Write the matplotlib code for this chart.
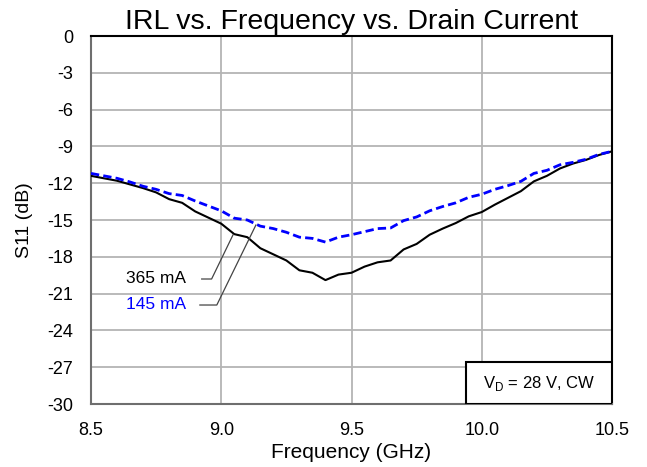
import numpy as np
import matplotlib
matplotlib.use("Agg")
import matplotlib.pyplot as plt
from matplotlib.patches import Rectangle

plt.rcParams['font.family'] = ['Liberation Sans', 'DejaVu Sans']

# frequency points (GHz)
freq = [8.50, 8.55, 8.60, 8.65, 8.70, 8.75, 8.80, 8.85, 8.90, 8.95,
        9.00, 9.05, 9.10, 9.15, 9.20, 9.25, 9.30, 9.35, 9.40, 9.45,
        9.50, 9.55, 9.60, 9.65, 9.70, 9.75, 9.80, 9.85, 9.90, 9.95,
        10.00, 10.05, 10.10, 10.15, 10.20, 10.25, 10.30, 10.35, 10.40, 10.45,
        10.50]

# S11 (dB) at 365 mA
s11_365 = [-11.4, -11.6, -11.8, -12.1, -12.4, -12.75, -13.3, -13.6, -14.3, -14.8,
           -15.3, -16.15, -16.4, -17.3, -17.8, -18.3, -19.1, -19.3, -19.9, -19.45,
           -19.3, -18.8, -18.45, -18.3, -17.4, -16.95, -16.2, -15.7, -15.25, -14.7,
           -14.35, -13.75, -13.2, -12.65, -11.85, -11.4, -10.8, -10.4, -10.1, -9.7,
           -9.4]

# S11 (dB) at 145 mA
s11_145 = [-11.2, -11.4, -11.6, -11.9, -12.25, -12.5, -12.85, -13.0, -13.45, -13.85,
           -14.25, -14.85, -15.0, -15.5, -15.7, -16.0, -16.4, -16.5, -16.8, -16.4,
           -16.2, -15.95, -15.7, -15.65, -15.05, -14.75, -14.25, -13.9, -13.6, -13.15,
           -12.9, -12.5, -12.2, -11.85, -11.2, -10.95, -10.5, -10.3, -10.05, -9.65,
           -9.4]

x_ticks = [8.5, 9.0, 9.5, 10.0, 10.5]
x_labels = ['8.5', '9.0', '9.5', '10.0', '10.5']
y_ticks = list(range(0, -31, -3))

fig = plt.figure(figsize=(6.47, 4.67), dpi=100)
ax = fig.add_axes([0.1406, 0.1349, 0.8054, 0.788])

ax.plot(freq, s11_365, color='black', linewidth=1.5, zorder=3)
ax.plot(freq, s11_145, color='#0000ff', linewidth=2, linestyle=(0, (3, 1.5)), zorder=3)

ax.set_xlim(8.5, 10.5)
ax.set_ylim(-30, 0)
ax.set_xticks(x_ticks)
ax.set_xticklabels(x_labels)
ax.set_yticks(y_ticks)
ax.set_yticklabels([str(v) for v in y_ticks])
ax.tick_params(length=0, labelsize=13)
ax.tick_params(axis='x', pad=13)
ax.tick_params(axis='y', pad=13)
ax.grid(True, color='#b4b4b4', linewidth=1.3)
ax.set_axisbelow(True)

for side in ['left', 'bottom']:
    ax.spines[side].set_color('#6e6e6e')
    ax.spines[side].set_linewidth(1.5)
for side in ['top', 'right']:
    ax.spines[side].set_color('black')
    ax.spines[side].set_linewidth(1.5)

ax.set_title('IRL vs. Frequency vs. Drain Current', fontsize=20.5, pad=5)
ax.set_xlabel('Frequency (GHz)', fontsize=15, labelpad=3)
ax.set_ylabel('S11 (dB)', fontsize=14, labelpad=10)

# series labels with leader lines
ax.text(8.865, -19.73, '365 mA', fontsize=12.5, color='black', ha='right', va='center', zorder=4)
ax.text(8.865, -21.85, '145 mA', fontsize=12.5, color='#0000ff', ha='right', va='center', zorder=4)
ax.plot([8.925, 8.963, 9.045], [-19.81, -19.81, -16.22], color='#444444', lw=0.9, zorder=4)
ax.plot([8.918, 8.983, 9.133], [-21.93, -21.93, -15.41], color='#444444', lw=0.9, zorder=4)

# condition box
ax.add_patch(Rectangle((0.72, 0.0), 0.28, 0.114, transform=ax.transAxes,
                       facecolor='white', edgecolor='black', linewidth=1.5, zorder=5))
ax.text(0.86, 0.057, r'V$_\mathregular{D}$ = 28 V, CW', transform=ax.transAxes,
        fontsize=12, ha='center', va='center', zorder=6)

fig.savefig('out.png', dpi=100)
